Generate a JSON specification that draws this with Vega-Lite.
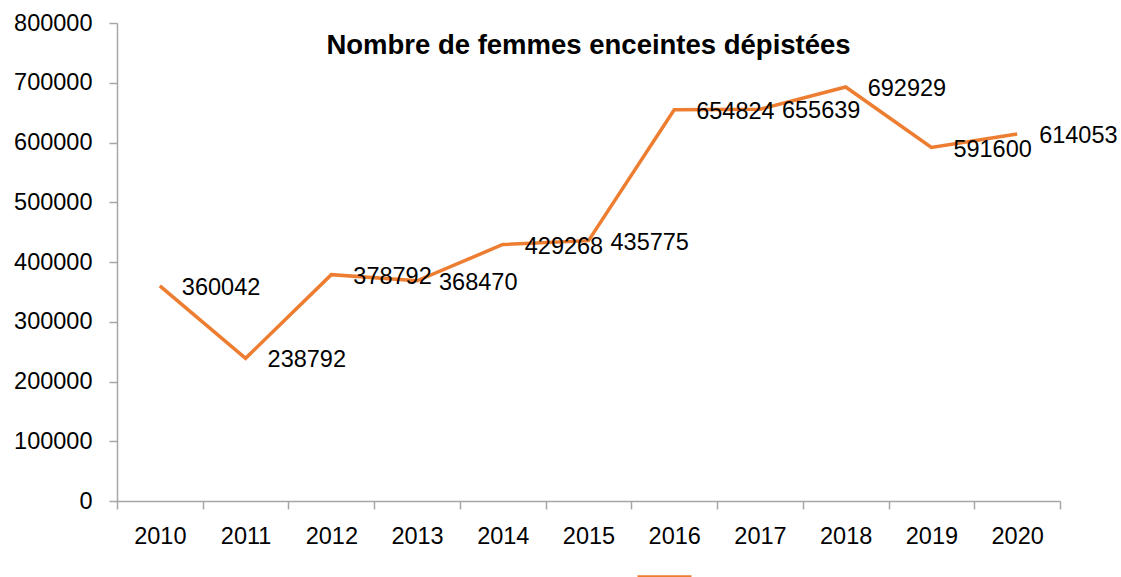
{
  "$schema": "https://vega.github.io/schema/vega-lite/v6.json",
  "width": 943,
  "height": 478,
  "autosize": {"type": "none"},
  "padding": {"left": 117, "top": 23, "right": 61, "bottom": 76},
  "background": "white",
  "title": {
    "text": "Nombre de femmes enceintes dépistées",
    "font": "Liberation Sans",
    "fontSize": 27.5,
    "fontWeight": "bold",
    "color": "#000000",
    "anchor": "middle",
    "baseline": "middle",
    "offset": -62,
    "frame": "group"
  },
  "data": {
    "values": [
      {"annee": "2010", "valeur": 360042},
      {"annee": "2011", "valeur": 238792},
      {"annee": "2012", "valeur": 378792},
      {"annee": "2013", "valeur": 368470},
      {"annee": "2014", "valeur": 429268},
      {"annee": "2015", "valeur": 435775},
      {"annee": "2016", "valeur": 654824},
      {"annee": "2017", "valeur": 655639},
      {"annee": "2018", "valeur": 692929},
      {"annee": "2019", "valeur": 591600},
      {"annee": "2020", "valeur": 614053}
    ]
  },
  "encoding": {
    "x": {
      "field": "annee",
      "type": "ordinal",
      "sort": null,
      "scale": {"type": "band", "paddingInner": 0, "paddingOuter": 0},
      "axis": {
        "title": null,
        "labelAngle": 0,
        "tickBand": "extent",
        "labelFont": "Liberation Sans",
        "labelFontSize": 23.5,
        "labelColor": "#000000",
        "labelPadding": 15,
        "tickSize": 8,
        "tickColor": "#A6A6A6",
        "domainColor": "#A6A6A6",
        "domainWidth": 1.5,
        "tickWidth": 1.5,
        "grid": false
      }
    },
    "y": {
      "field": "valeur",
      "type": "quantitative",
      "scale": {"domain": [0, 800000], "nice": false, "zero": true},
      "axis": {
        "title": null,
        "values": [0, 100000, 200000, 300000, 400000, 500000, 600000, 700000, 800000],
        "format": "d",
        "labelFont": "Liberation Sans",
        "labelFontSize": 23.5,
        "labelColor": "#000000",
        "labelPadding": 17,
        "tickSize": 8,
        "tickColor": "#A6A6A6",
        "domainColor": "#A6A6A6",
        "domainWidth": 1.5,
        "tickWidth": 1.5,
        "grid": false
      }
    }
  },
  "layer": [
    {
      "mark": {"type": "line", "strokeWidth": 3.5, "interpolate": "linear"},
      "encoding": {
        "color": {
          "datum": "Nombre",
          "scale": {"range": ["#ED7D31"]},
          "legend": {
            "title": null,
            "orient": "none",
            "legendX": 518,
            "legendY": 525,
            "symbolType": "stroke",
            "symbolSize": 2916,
            "symbolStrokeWidth": 4.5,
            "labelExpr": "''",
            "labelFontSize": 1,
            "padding": 0,
            "symbolOffset": 0
          }
        }
      }
    },
    {
      "mark": {
        "type": "text",
        "align": "left",
        "baseline": "middle",
        "dx": 22,
        "dy": 2,
        "font": "Liberation Sans",
        "fontSize": 23.5,
        "color": "#000000"
      },
      "encoding": {
        "text": {"field": "valeur", "type": "quantitative", "format": "d"}
      }
    }
  ],
  "config": {
    "view": {"stroke": null}
  }
}
